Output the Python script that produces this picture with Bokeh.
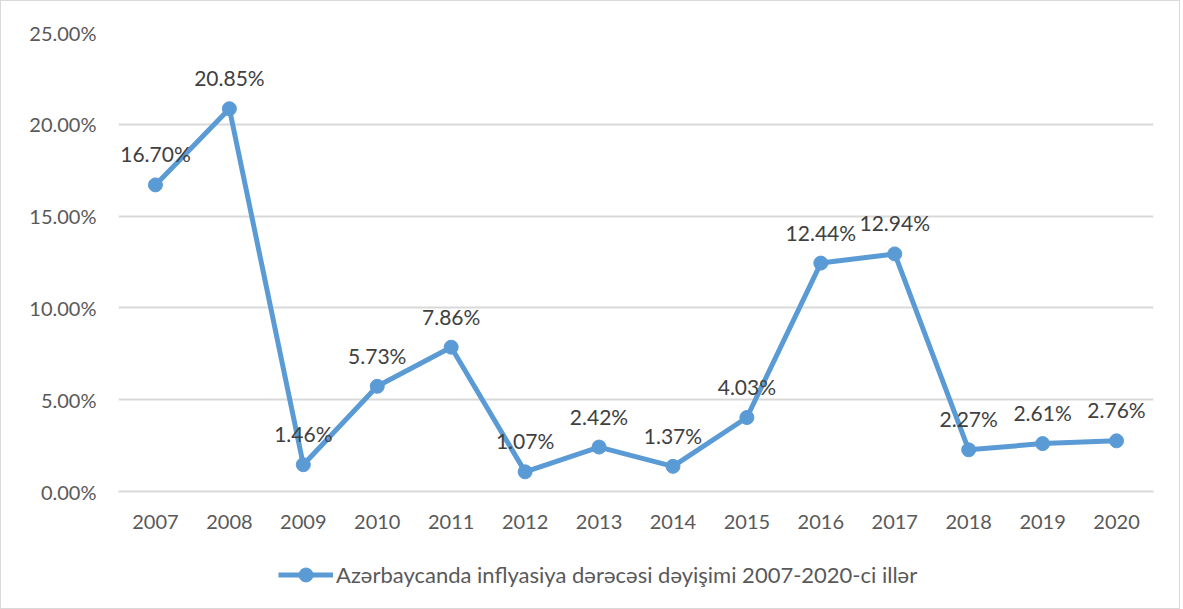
from bokeh.plotting import figure
from bokeh.layouts import column
from bokeh.models import ColumnDataSource, FactorRange, Range1d, FixedTicker, Legend, LegendItem
from bokeh.core.properties import value
from bokeh.embed import file_html
from bokeh.resources import INLINE

years = ["2007", "2008", "2009", "2010", "2011", "2012", "2013",
         "2014", "2015", "2016", "2017", "2018", "2019", "2020"]
inflation = [16.70, 20.85, 1.46, 5.73, 7.86, 1.07, 2.42,
             1.37, 4.03, 12.44, 12.94, 2.27, 2.61, 2.76]
y_ticks = [0, 5, 10, 15, 20, 25]
y_tick_labels = ["0.00%", "5.00%", "10.00%", "15.00%", "20.00%", "25.00%"]
series_name = "Azərbaycanda inflyasiya dərəcəsi dəyişimi 2007-2020-ci illər"

FONT = "Lato"
TXT = "#595959"
BLUE = "#5B9BD5"
GRID = "#D9D9D9"

src = ColumnDataSource(dict(
    x=years, y=inflation, lab=["%.2f%%" % v for v in inflation]))

p = figure(x_range=FactorRange(*years), y_range=Range1d(0, 25),
           width=1178, height=535, output_backend="svg", toolbar_location=None,
           min_border_left=117, min_border_right=26, min_border_top=31,
           min_border_bottom=45)
p.outline_line_color = None

line = p.line("x", "y", source=src, line_color=BLUE, line_width=5)
pts = p.scatter("x", "y", source=src, size=14, fill_color=BLUE, line_color=BLUE)
p.text("x", "y", text="lab", source=src, y_offset=-31, text_align="center",
       text_baseline="middle", text_font=value(FONT), text_font_size="21px",
       text_color="#404040")

p.yaxis.ticker = FixedTicker(ticks=y_ticks)
p.yaxis.major_label_overrides = {t: l for t, l in zip(y_ticks, y_tick_labels)}
p.ygrid.ticker = FixedTicker(ticks=y_ticks)
p.ygrid.grid_line_color = GRID
p.ygrid.grid_line_width = 2
p.xgrid.grid_line_color = None

for ax in (p.xaxis, p.yaxis):
    ax.major_tick_line_color = None
    ax.minor_tick_line_color = None
    ax.major_label_text_font = FONT
    ax.major_label_text_font_size = "20px"
    ax.major_label_text_color = TXT
p.yaxis.axis_line_color = None
p.xaxis.axis_line_color = GRID
p.xaxis.axis_line_width = 2
p.yaxis.major_label_standoff = 16
p.xaxis.major_label_standoff = 17

# legend strip below the chart (its sample glyphs sit outside the visible range)
lg = figure(width=1178, height=72, output_backend="svg", toolbar_location=None,
            x_range=Range1d(0, 1), y_range=Range1d(0, 1),
            min_border=0, min_border_left=0, min_border_right=0,
            min_border_top=0, min_border_bottom=0)
lg.axis.visible = False
lg.grid.visible = False
lg.outline_line_color = None
offscreen = ColumnDataSource(dict(x=[5, 6], y=[5, 6]))
lline = lg.line("x", "y", source=offscreen, line_color=BLUE, line_width=5)
lpts = lg.scatter("x", "y", source=offscreen, size=14, fill_color=BLUE, line_color=BLUE)
legend = Legend(items=[LegendItem(label=series_name, renderers=[lline, lpts])],
                location=(160, 16), orientation="horizontal",
                label_text_font=FONT, label_text_font_size="22px",
                label_text_color=TXT, glyph_width=55, glyph_height=35,
                border_line_color=None, margin=0, padding=4, label_standoff=3,
                background_fill_alpha=0)
lg.add_layout(legend)

layout = column(p, lg, spacing=0)
layout.styles = {"border": "1px solid #D9D9D9"}

open("out.html", "w").write(file_html(layout, INLINE))
